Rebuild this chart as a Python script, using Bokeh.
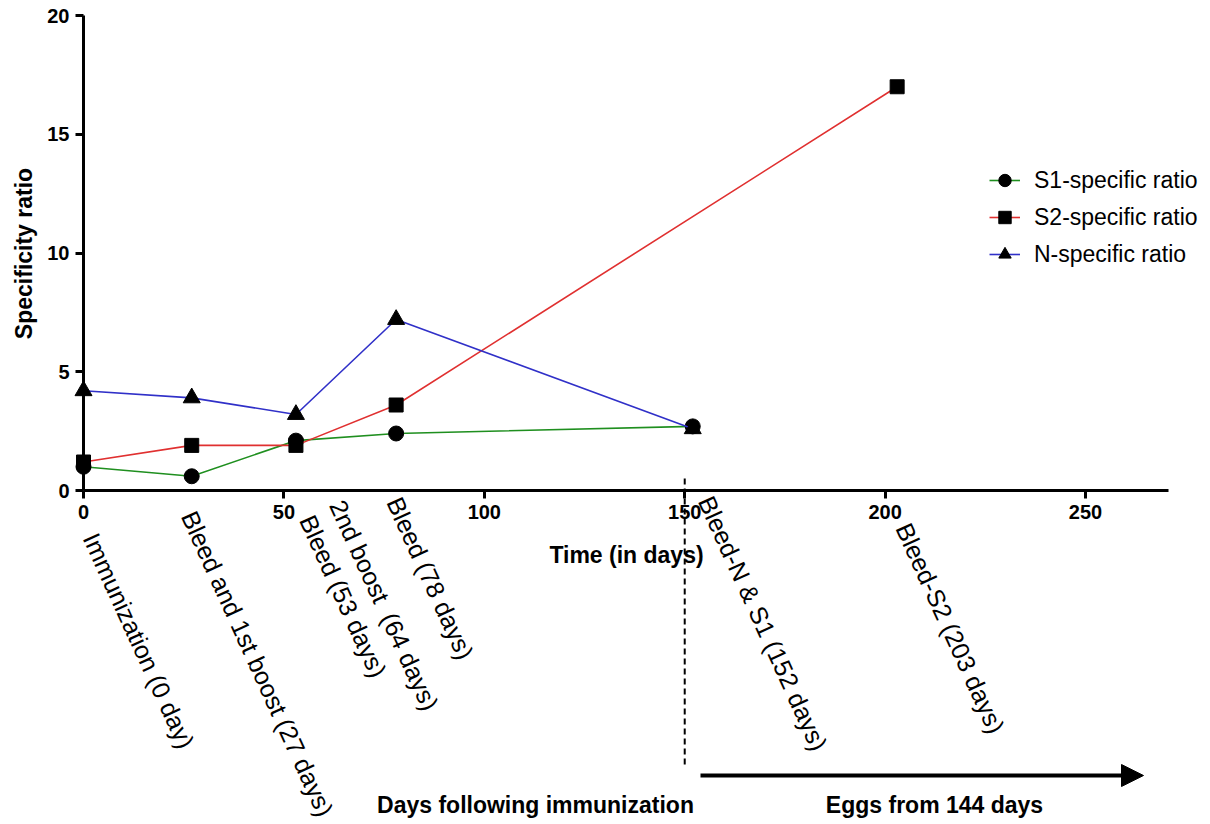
from bokeh.plotting import figure
from bokeh.models import (Range1d, FixedTicker, Legend, LegendItem, Label, Arrow, NormalHead)
from bokeh.embed import file_html
from bokeh.resources import INLINE

# ---------------- data ----------------
s1_days = [0, 27, 53, 78, 152]
s1_ratio = [1.0, 0.6, 2.1, 2.4, 2.7]
s2_days = [0, 27, 53, 78, 203]
s2_ratio = [1.2, 1.9, 1.9, 3.6, 17.0]
n_days = [0, 27, 53, 78, 152]
n_ratio = [4.2, 3.9, 3.2, 7.2, 2.6]

series_names = ["S1-specific ratio", "S2-specific ratio", "N-specific ratio"]

x_ticks = [0, 50, 100, 150, 200, 250]
y_ticks = [0, 5, 10, 15, 20]

event_days = [0, 27, 53, 64, 78, 152, 203]
event_texts = ["Immunization (0 day)", "Bleed and 1st boost (27 days)",
               "Bleed (53 days)", "2nd boost\u00a0 (64 days)", "Bleed (78 days)",
               "Bleed-N & S1 (152 days)", "Bleed-S2 (203 days)"]
eggs_start_day = 150

# ---------------- styling / layout ----------------
W, H = 1210, 824
X0_PX, X_MAX, X_MAX_PX = 83, 270.7, 1168      # where day 0 / axis end sit
Y0_PX, Y20_PX = 490, 15                        # where ratio 0 / 20 sit
PXD = (X_MAX_PX - X0_PX) / X_MAX               # px per day
PYD = (Y0_PX - Y20_PX) / 20.0                  # px per unit


def dx(px):   # screen x -> data x
    return (px - X0_PX) / PXD


def dy(py):   # screen y -> data y
    return (Y0_PX - py) / PYD


FONT = "Liberation Sans"
GREEN, RED, BLUE = "#1f8f1f", "#e03030", "#3030c8"

# pixel offsets (right, down) of each event label start from its day on the axis
event_offsets = [(7, 44), (-3, 22), (11, 26), (-3, 11), (-2, 8), (13, 7), (6, 34)]

p = figure(width=W, height=H, output_backend="svg", toolbar_location=None,
           x_range=Range1d(dx(0), dx(W)), y_range=Range1d(dy(H), dy(0)),
           min_border=0)
p.outline_line_color = None
p.xgrid.visible = False
p.ygrid.visible = False
p.background_fill_color = "white"
p.border_fill_color = "white"

for ax in (p.xaxis[0], p.yaxis[0]):
    ax.axis_line_width = 3
    ax.major_tick_line_width = 3
    ax.major_tick_out = 8
    ax.major_tick_in = 0
    ax.minor_tick_line_color = None
    ax.major_label_text_font = FONT
    ax.major_label_text_font_style = "bold"
    ax.major_label_text_font_size = "20px"
    ax.major_label_text_color = "black"
    ax.major_label_standoff = 6

p.xaxis.ticker = FixedTicker(ticks=x_ticks)
p.yaxis.ticker = FixedTicker(ticks=y_ticks)
p.xaxis.bounds = (0, X_MAX)
p.yaxis.bounds = (0, 20)
p.xaxis.fixed_location = 0
p.yaxis.fixed_location = 0

series = [(s1_days, s1_ratio, GREEN, "circle", 15),
          (s2_days, s2_ratio, RED, "square", 14),
          (n_days, n_ratio, BLUE, "triangle", 17)]
items = []
for (xs, ys, col, mk, sz), name in zip(series, series_names):
    ln = p.line(xs, ys, line_color=col, line_width=1.6)
    sc = p.scatter(xs, ys, marker=mk, size=sz, fill_color="black", line_color="black")
    items.append(LegendItem(label=name, renderers=[ln, sc]))

legend = Legend(items=items, location=(989, H - 271), glyph_width=31, glyph_height=34,
                label_height=34, spacing=3, padding=0, margin=0, label_standoff=14,
                label_text_font=FONT, label_text_font_size="23px", label_text_color="black",
                border_line_color=None, background_fill_alpha=0)
p.add_layout(legend)


def text_label(**kw):
    kw.setdefault("text_font", FONT)
    kw.setdefault("text_color", "black")
    return Label(**kw)


# axis titles
p.add_layout(text_label(x=dx(23), y=dy(253), text="Specificity ratio",
                        angle=90, angle_units="deg", text_align="center", text_baseline="middle",
                        text_font_style="bold", text_font_size="23px"))
p.add_layout(text_label(x=dx(626), y=dy(554), text="Time (in days)",
                        text_align="center", text_baseline="middle",
                        text_font_style="bold", text_font_size="23px"))

# event labels
for d, t, (ox, oy) in zip(event_days, event_texts, event_offsets):
    p.add_layout(text_label(x=d, y=0, x_offset=ox, y_offset=-oy, text=t,
                            angle=-65.5, angle_units="deg", text_align="left",
                            text_baseline="middle", text_font_size="25px"))

# dashed separator and eggs arrow
p.add_layout(Arrow(end=None, x_start=eggs_start_day, y_start=dy(478),
                   x_end=eggs_start_day, y_end=dy(768),
                   line_dash="6 4", line_width=2, line_color="black"))
p.add_layout(Arrow(end=NormalHead(size=22, fill_color="black", line_color="black"),
                   x_start=dx(700), y_start=dy(775), x_end=dx(1143), y_end=dy(775),
                   line_width=4, line_color="black"))

p.add_layout(text_label(x=dx(535), y=dy(804), text="Days following immunization",
                        text_align="center", text_baseline="middle",
                        text_font_style="bold", text_font_size="23px"))
p.add_layout(text_label(x=dx(934), y=dy(804), text="Eggs from 144 days",
                        text_align="center", text_baseline="middle",
                        text_font_style="bold", text_font_size="23px"))

open("out.html", "w").write(file_html(p, INLINE))
